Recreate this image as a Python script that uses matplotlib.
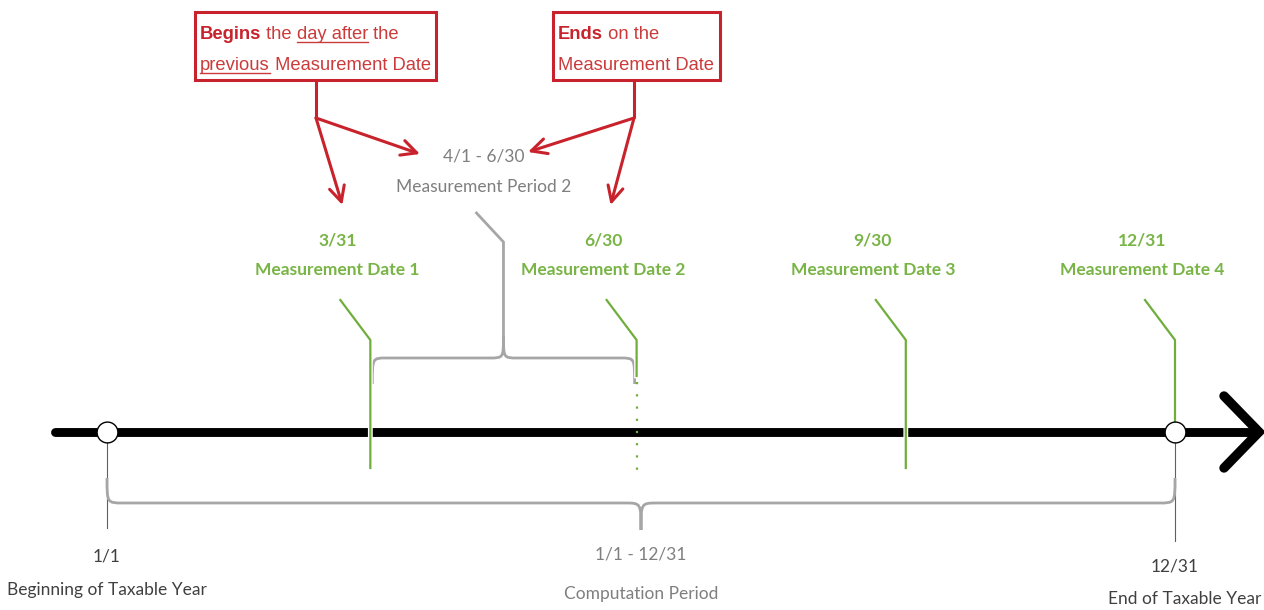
import matplotlib.pyplot as plt
from matplotlib.path import Path
from matplotlib.patches import PathPatch, Rectangle
import matplotlib.patheffects as pe

# timeline values, x in days after 1/1
year_end = 365
date_days = [90, 181, 273, 365]
date_labels = ["3/31", "6/30", "9/30", "12/31"]
date_names = ["Measurement Date 1", "Measurement Date 2",
              "Measurement Date 3", "Measurement Date 4"]
period_start, period_end = 90, 181
period_label = "4/1 - 6/30"
period_name = "Measurement Period 2"
comp_label = "1/1 - 12/31"
comp_name = "Computation Period"
start_label, start_name = "1/1", "Beginning of Taxable Year"
end_label, end_name = "12/31", "End of Taxable Year"

begins_lines = [[("Begins", True, False), (" the ", False, False),
                 ("day after", False, True), (" the", False, False)],
                [("previous", False, True), (" Measurement Date", False, False)]]
ends_lines = [[("Ends", True, False), (" on the", False, False)],
              [("Measurement Date", False, False)]]

X0 = 107.0
PPD = 1068.0 / 365.0


def at(p):
    return (p - X0) / PPD


def dx(p):
    return p / PPD


GREEN = "#79b446"
GREEN_L = "#6fae3c"
GRAY_T = "#7f7f7f"
GRAY_B = "#a6a6a6"
RED = "#c8232c"
RED_T = "#cc3b3b"
FONT = ["Lato", "DejaVu Sans"]
FONT2 = ["Liberation Sans", "DejaVu Sans"]
plt.rcParams["font.family"] = FONT

fig = plt.figure(figsize=(12.64, 6.10), dpi=100)
ax = fig.add_axes([0, 0, 1, 1])
ax.set_xlim(at(0), at(1264))
ax.set_ylim(610, 0)
ax.axis("off")

# main timeline
ax.plot([at(55), at(1256)], [432, 432], color="black", lw=6.4,
        solid_capstyle="round", zorder=2)
ax.plot([at(1224), at(1259), at(1224)], [396, 432, 468], color="black",
        lw=6.8, solid_capstyle="round", solid_joinstyle="miter", zorder=2)

# thin gray ticks below the year ends
ax.plot([0, 0], [432, 528], color="#606060", lw=0.8, zorder=1)
ax.plot([year_end, year_end], [432, 541], color="#606060", lw=0.8, zorder=1)

# green date markers
for i, d in enumerate(date_days):
    ytop = 300
    if d == year_end:
        ybot = 425
    elif d == period_end:
        ybot = 376
    else:
        ybot = 468
    ax.plot([d - dx(30), d, d], [ytop, 340, ybot], color=GREEN_L, lw=1.6,
            solid_joinstyle="miter", zorder=3,
            path_effects=[pe.Stroke(linewidth=3.5, foreground="white"), pe.Normal()])
    if d == period_end:
        ax.plot([d, d], [382, 472], color=GREEN_L, lw=1.6, ls=(0, (1, 4.5)), zorder=3)
    cx = d - dx(33)
    ax.text(cx, 240, date_labels[i], color=GREEN, fontsize=12.5, ha="center",
            va="center", fontweight="bold")
    ax.text(cx, 270, date_names[i], color=GREEN, fontsize=12.5, ha="center",
            va="center", fontweight="bold")

# circles at start and end of year
ax.plot([0, year_end], [432, 432], "o", ms=15, mfc="white", mec="black",
        mew=1.0, zorder=4)


def brace(x0, x1, y_end, y_line, y_tip, r):
    xm = (x0 + x1) / 2
    verts = [(x0, y_end), (x0, y_line), (x0, y_line), (x0 + r, y_line),
             (xm - r, y_line), (xm, y_line), (xm, y_line), (xm, y_tip),
             (xm, y_line), (xm, y_line), (xm + r, y_line),
             (x1 - r, y_line), (x1, y_line), (x1, y_line), (x1, y_end)]
    codes = [Path.MOVETO, Path.CURVE4, Path.CURVE4, Path.CURVE4,
             Path.LINETO, Path.CURVE4, Path.CURVE4, Path.CURVE4,
             Path.CURVE4, Path.CURVE4, Path.CURVE4,
             Path.LINETO, Path.CURVE4, Path.CURVE4, Path.CURVE4]
    ax.add_patch(PathPatch(Path(verts, codes), fill=False, ec=GRAY_B,
                           lw=2.0, zorder=2))
    return xm


# computation period brace
xm = brace(0, year_end, 478, 503, 530, dx(16))
ax.text(xm, 554, comp_label, color=GRAY_T, fontsize=12.5, ha="center", va="center")
ax.text(xm, 594, comp_name, color=GRAY_T, fontsize=12.5, ha="center", va="center")

# measurement period brace
pm = brace(period_start + dx(2), period_end - dx(2), 384, 358, 336, dx(14))
ax.plot([pm - dx(27), pm, pm], [213, 242, 340], color=GRAY_B, lw=2.0,
        solid_joinstyle="miter", zorder=2)
ax.text(pm - dx(20), 157, period_label, color=GRAY_T, fontsize=12.5,
        ha="center", va="center")
ax.text(pm - dx(20), 187, period_name, color=GRAY_T, fontsize=12.5,
        ha="center", va="center")

# year end labels
ax.text(0, 556, start_label, color="#404040", fontsize=12.5, ha="center", va="center")
ax.text(0, 590, start_name, color="#404040", fontsize=12.5, ha="center", va="center")
ax.text(year_end, 566, end_label, color="#404040", fontsize=12.5, ha="center", va="center")
ax.text(year_end + dx(10), 599, end_name, color="#404040", fontsize=12.5,
        ha="center", va="center")

# red callout boxes
renderer = fig.canvas.get_renderer()


def rich_line(x, y, parts):
    for s, bold, under in parts:
        t = ax.text(x, y, s, color=RED if bold else RED_T, fontsize=13.2,
                    fontweight="bold" if bold else "normal", ha="left",
                    va="baseline", family=FONT2)
        bb = t.get_window_extent(renderer=renderer)
        inv = ax.transData.inverted()
        xa = inv.transform((bb.x0, 0))[0]
        xb = inv.transform((bb.x1, 0))[0]
        if under:
            ax.plot([xa, xb], [y + 3, y + 3], color=RED_T, lw=1.0)
        x = xb


def callout(px0, px1, lines, stem_px, targets):
    ax.add_patch(Rectangle((at(px0), 12), dx(px1 - px0), 68, fill=False,
                           ec=RED, lw=2.2, zorder=3))
    for k, parts in enumerate(lines):
        rich_line(at(px0 + 5), 39 + 31 * k, parts)
    sx = at(stem_px)
    ax.plot([sx, sx], [80, 118], color=RED, lw=2.2, solid_capstyle="butt")
    for tx, ty in targets:
        ax.annotate("", xy=(tx, ty), xytext=(sx, 118),
                    arrowprops=dict(arrowstyle="->,head_length=1.1,head_width=0.55",
                                    color=RED, lw=2.2, shrinkA=0, shrinkB=0))


callout(195, 436, begins_lines, 316, [(at(420), 154), (date_days[0] - dx(28), 205)])
callout(553, 720, ends_lines, 634, [(at(528), 152), (date_days[1] - dx(26), 205)])

fig.savefig("out.png", dpi=100, facecolor="white")
